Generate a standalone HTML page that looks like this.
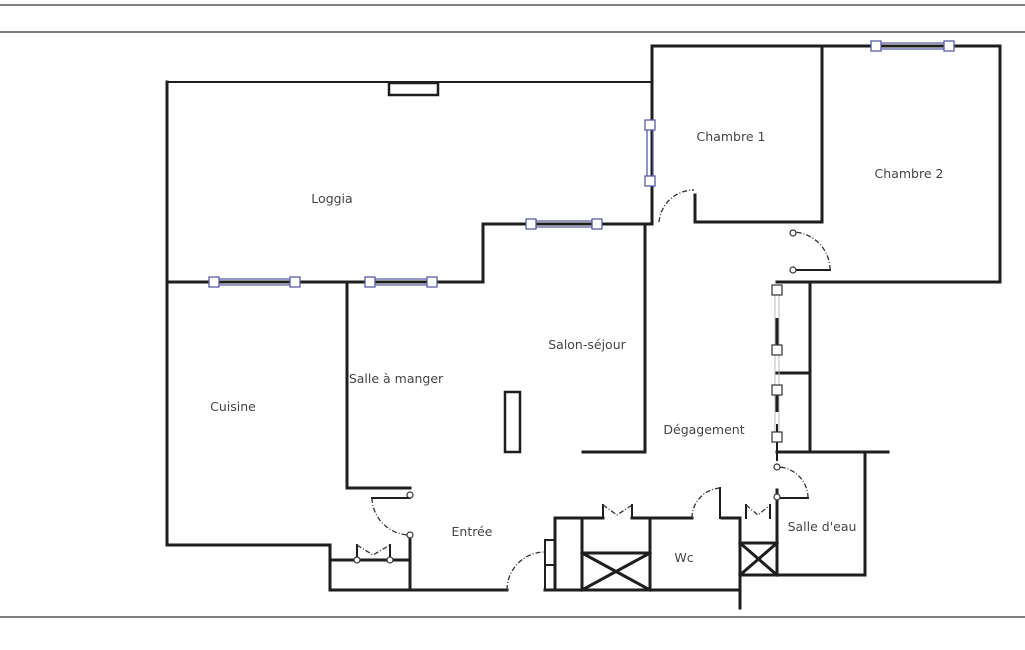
<!DOCTYPE html>
<html><head><meta charset="utf-8"><style>
html,body{margin:0;padding:0;background:#fff;}
svg{display:block}
text{font-family:"DejaVu Sans","Liberation Sans",sans-serif;font-size:12.5px;fill:#444;text-anchor:middle}
</style></head><body>
<svg width="1025" height="650" viewBox="0 0 1025 650" xmlns="http://www.w3.org/2000/svg">
<g stroke="#333" stroke-width="1.2">
<line x1="0" y1="5" x2="1025" y2="5"/>
<line x1="0" y1="32" x2="1025" y2="32"/>
<line x1="0" y1="617" x2="1025" y2="617"/>
</g>
<g fill="none" stroke="#1e1e1e" stroke-width="3" stroke-linecap="square">
<polyline points="652,46 1000,46 1000,282 810,282"/>
<polyline points="167,82 652,82" stroke-width="2"/>
<polyline points="167,82 167,545 330,545 330,590 507,590"/>
<polyline points="167,282 483,282 483,224 652,224"/>
<line x1="652" y1="46" x2="652" y2="224"/>
<line x1="822" y1="46" x2="822" y2="222"/>
<polyline points="695,195 695,222 822,222"/>
<line x1="645" y1="224" x2="645" y2="452"/>
<line x1="583" y1="452" x2="645" y2="452"/>
<polyline points="347,282 347,488 410,488"/>
<line x1="410" y1="535" x2="410" y2="588"/>
<line x1="330" y1="560" x2="410" y2="560"/>
<line x1="777" y1="282" x2="810" y2="282"/>
<line x1="810" y1="282" x2="810" y2="452"/>
<line x1="777" y1="373" x2="810" y2="373"/>
<line x1="777" y1="452" x2="888" y2="452"/>
<line x1="865" y1="452" x2="865" y2="575"/>
<line x1="740" y1="575" x2="865" y2="575"/>
<line x1="740" y1="518" x2="740" y2="608"/>
<line x1="777" y1="490" x2="777" y2="575"/>
<line x1="545" y1="590" x2="740" y2="590"/>
<line x1="555" y1="518" x2="555" y2="590"/>
<polyline points="555,518 603,518"/><polyline points="632,518 692,518"/><polyline points="722,518 740,518"/>
<line x1="582" y1="518" x2="582" y2="590"/>
<line x1="650" y1="518" x2="650" y2="590"/>
<rect x="582" y="553" width="68" height="37"/>
<line x1="582" y1="553" x2="650" y2="590"/><line x1="650" y1="553" x2="582" y2="590"/>
<rect x="740" y="543" width="37" height="32"/>
<line x1="740" y1="543" x2="777" y2="575"/><line x1="777" y1="543" x2="740" y2="575"/>
<rect x="505" y="392" width="15" height="60" stroke-width="2.5"/>
<rect x="389" y="83" width="49" height="12" stroke-width="2.5"/>
<line x1="603" y1="505" x2="603" y2="518" stroke-width="2"/><line x1="632" y1="505" x2="632" y2="518" stroke-width="2"/>
<line x1="720" y1="488" x2="720" y2="518" stroke-width="2"/>
<line x1="746" y1="505" x2="746" y2="518" stroke-width="2"/><line x1="770" y1="505" x2="770" y2="518" stroke-width="2"/>
<line x1="357" y1="545" x2="357" y2="560" stroke-width="2"/><line x1="390" y1="545" x2="390" y2="560" stroke-width="2"/>
<line x1="372" y1="498" x2="410" y2="498" stroke-width="2"/>
<line x1="777" y1="498" x2="808" y2="498" stroke-width="2"/>
<line x1="793" y1="270" x2="830" y2="270" stroke-width="2"/>
<line x1="545" y1="540" x2="555" y2="540" stroke-width="2"/><line x1="545" y1="565" x2="555" y2="565" stroke-width="2"/>
<line x1="545" y1="540" x2="545" y2="590" stroke-width="2"/>
<line x1="777" y1="425" x2="777" y2="460" stroke-width="2"/>
<line x1="777" y1="320" x2="777" y2="343" stroke-width="4"/>
<line x1="777" y1="395" x2="777" y2="410" stroke-width="4"/>
</g>
<g stroke="#bbb" stroke-width="1">
<line x1="775" y1="295" x2="775" y2="432"/><line x1="779" y1="295" x2="779" y2="432"/>
</g>
<g fill="none" stroke="#333" stroke-width="1.3" stroke-dasharray="5,2,1,2">
<path d="M372,498 A38,38 0 0 0 410,535"/>
<path d="M507,590 A38,38 0 0 1 545,552"/>
<path d="M692,518 A30,30 0 0 1 722,488"/>
<path d="M808,498 A31,31 0 0 0 777,467"/>
<path d="M830,270 A38,38 0 0 0 793,232"/>
<path d="M659,222 A35,35 0 0 1 694,190"/>
<path d="M603,505 L617,515 L632,505"/><path d="M746,505 L758,515 L770,505"/>
<path d="M357,545 L373,555 L390,545"/>
</g>
<g fill="#fff" stroke="#5a5aa8" stroke-width="1.3">
<line x1="214" y1="279" x2="295" y2="279"/><line x1="214" y1="285" x2="295" y2="285"/>
<line x1="370" y1="279" x2="432" y2="279"/><line x1="370" y1="285" x2="432" y2="285"/>
<line x1="531" y1="221" x2="597" y2="221"/><line x1="531" y1="227" x2="597" y2="227"/>
<line x1="876" y1="43" x2="949" y2="43"/><line x1="876" y1="49" x2="949" y2="49"/>
<line x1="647" y1="125" x2="647" y2="181"/><line x1="653" y1="125" x2="653" y2="181"/>
<rect x="209" y="277" width="10" height="10"/><rect x="290" y="277" width="10" height="10"/>
<rect x="365" y="277" width="10" height="10"/><rect x="427" y="277" width="10" height="10"/>
<rect x="526" y="219" width="10" height="10"/><rect x="592" y="219" width="10" height="10"/>
<rect x="871" y="41" width="10" height="10"/><rect x="944" y="41" width="10" height="10"/>
<rect x="645" y="120" width="10" height="10"/><rect x="645" y="176" width="10" height="10"/>
</g>
<g fill="#fff" stroke="#333" stroke-width="1.2">
<rect x="772" y="285" width="10" height="10"/><rect x="772" y="345" width="10" height="10"/>
<rect x="772" y="385" width="10" height="10"/><rect x="772" y="432" width="10" height="10"/>
<circle cx="410" cy="495" r="3"/><circle cx="410" cy="535" r="3"/>
<circle cx="793" cy="233" r="3"/><circle cx="793" cy="270" r="3"/>
<circle cx="777" cy="467" r="3"/><circle cx="777" cy="497" r="3"/>
<circle cx="357" cy="560" r="3"/><circle cx="390" cy="560" r="3"/>
</g>
<text x="332" y="203">Loggia</text>
<text x="731" y="141">Chambre 1</text>
<text x="909" y="178">Chambre 2</text>
<text x="587" y="349">Salon-séjour</text>
<text x="396" y="383">Salle à manger</text>
<text x="233" y="411">Cuisine</text>
<text x="704" y="434">Dégagement</text>
<text x="472" y="536">Entrée</text>
<text x="684" y="562">Wc</text>
<text x="822" y="531">Salle d'eau</text>
</svg>
</body></html>
